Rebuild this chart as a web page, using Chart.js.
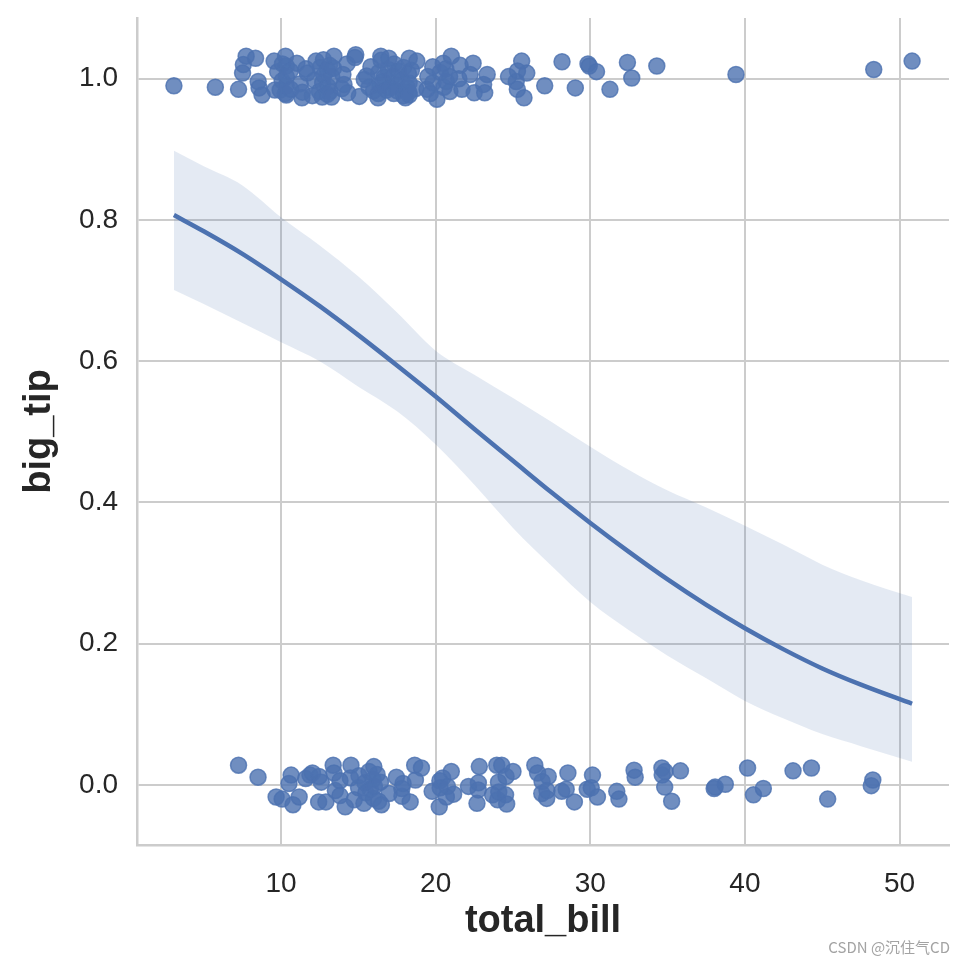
<!DOCTYPE html>
<html>
<head>
<meta charset="utf-8">
<script src="https://cdn.jsdelivr.net/npm/chart.js@4"></script>
<style>
  body { margin: 0; background: #ffffff; }
  #wrap { position: relative; width: 966px; height: 966px; }
  #mark {
    position: absolute; right: 16px; top: 936px;
    font-family: "Noto Sans CJK SC", "Liberation Sans", sans-serif;
    font-size: 15px; color: #a3a3a3;
  }
</style>
</head>
<body>
<div id="wrap">
  <canvas id="myChart" width="966" height="966"></canvas>
  <div id="mark">CSDN @沉住气CD</div>
</div>
<script>
// big_tip == 1 rows (total_bill, jittered y)
const bigTipBill = [3.07, 5.75, 7.25, 7.51, 7.56, 7.74, 8.35, 8.52, 8.58, 8.77, 9.55, 9.6, 9.78, 9.94, 10.07, 10.09, 10.27, 10.29, 10.33, 10.33,
  10.34, 10.34, 10.59, 10.63, 11.02, 11.24, 11.35, 11.38, 11.61, 11.69, 12.02, 12.16, 12.26, 12.48, 12.54, 12.66, 12.69, 12.74, 12.76, 13.0,
  13.0, 13.03, 13.13, 13.16, 13.27, 13.28, 13.39, 13.42, 13.94, 14.0, 14.07, 14.26, 14.31, 14.78, 14.83, 15.06, 15.38, 15.53, 15.69, 15.81,
  15.98, 16.27, 16.29, 16.32, 16.4, 16.45, 16.47, 16.58, 16.66, 16.82, 16.93, 16.97, 17.07, 17.26, 17.29, 17.31, 17.47, 17.51, 17.59, 17.78,
  17.92, 17.92, 18.04, 18.15, 18.24, 18.26, 18.28, 18.29, 18.29, 18.43, 18.71, 18.78, 19.44, 19.49, 19.65, 19.81, 19.82, 20.08, 20.29, 20.49,
  20.53, 20.65, 20.69, 20.9, 20.92, 21.01, 21.5, 21.58, 21.7, 22.23, 22.42, 22.49, 23.1, 23.17, 23.33, 24.71, 25.21, 25.28, 25.29, 25.56,
  25.71, 25.89, 27.05, 28.17, 29.03, 29.85, 29.93, 30.4, 31.27, 32.4, 32.68, 34.3, 39.42, 48.33, 50.81];
const bigTipY = [0.990, 0.988, 0.985, 1.008, 1.020, 1.032, 1.029, 0.996, 0.987, 0.977, 1.025, 0.984, 1.010, 0.984, 0.997, 1.021, 0.979, 1.032, 1.018, 0.990,
  1.003, 0.977, 1.011, 0.985, 1.022, 0.993, 0.973, 0.981, 1.014, 1.008, 0.976, 0.998, 1.025, 0.982, 1.016, 0.974, 0.994, 1.027, 1.005, 0.978,
  1.012, 0.989, 1.019, 0.982, 0.974, 1.003, 1.015, 1.032, 0.986, 1.006, 0.992, 1.021, 0.980, 1.030, 1.034, 0.975, 0.999, 1.004, 0.988, 1.017,
  0.983, 0.973, 0.979, 1.009, 0.991, 1.032, 1.026, 0.996, 1.002, 0.984, 1.013, 1.029, 0.987, 1.004, 0.979, 1.021, 0.991, 0.983, 1.011, 0.998,
  0.976, 1.016, 0.973, 0.988, 1.007, 0.981, 0.994, 1.029, 0.977, 1.012, 0.986, 1.025, 0.985, 1.003, 0.979, 1.017, 0.994, 0.971, 1.009, 1.022,
  0.988, 1.014, 0.996, 1.003, 0.982, 1.032, 1.000, 1.019, 0.985, 1.006, 1.022, 0.980, 0.992, 0.980, 1.006, 1.003, 0.996, 0.985, 1.011, 1.025,
  0.973, 1.008, 0.990, 1.024, 0.987, 1.021, 1.018, 1.010, 0.985, 1.023, 1.001, 1.018, 1.006, 1.013, 1.025];

// big_tip == 0 rows
const smallTipBill = [7.25, 8.51, 9.68, 10.07, 10.51, 10.65, 10.77, 11.17, 11.59, 11.87, 12.03, 12.43, 12.46, 12.6, 12.9, 13.37, 13.42, 13.51, 13.81, 13.81,
  14.15, 14.48, 14.52, 14.73, 15.01, 15.04, 15.36, 15.42, 15.48, 15.69, 15.77, 15.95, 15.98, 16.0, 16.04, 16.21, 16.31, 16.43, 16.49, 16.99,
  17.46, 17.81, 17.82, 17.89, 18.35, 18.64, 18.69, 19.08, 19.77, 20.23, 20.27, 20.29, 20.45, 20.69, 20.76, 21.01, 21.16, 22.12, 22.67, 22.75,
  22.76, 22.82, 23.68, 23.95, 24.01, 24.06, 24.08, 24.27, 24.52, 24.55, 24.59, 25.0, 26.41, 26.59, 26.86, 26.88, 27.18, 27.2, 27.28, 28.15,
  28.44, 28.55, 28.97, 29.8, 30.06, 30.14, 30.46, 31.71, 31.85, 32.83, 32.9, 34.63, 34.65, 34.81, 34.83, 35.26, 35.83, 38.01, 38.07, 38.73,
  40.17, 40.55, 41.19, 43.11, 44.3, 45.35, 48.17, 48.27];
const smallTipY = [0.028, 0.011, -0.017, -0.020, 0.002, 0.014, -0.028, -0.017, 0.009, 0.014, 0.017, -0.024, 0.012, 0.004, -0.024, 0.028, 0.017, -0.008, 0.006, -0.015,
  -0.031, 0.010, 0.028, -0.021, -0.004, 0.013, -0.026, 0.003, -0.011, 0.019, -0.006, 0.008, -0.019, 0.026, -0.002, 0.015, -0.023, 0.004, -0.028, -0.012,
  0.011, -0.005, -0.016, 0.002, -0.024, 0.028, 0.007, 0.024, -0.009, -0.031, 0.006, -0.004, 0.010, -0.017, -0.002, 0.019, -0.013, -0.002, -0.026, -0.007,
  0.003, 0.026, -0.014, 0.028, -0.021, 0.004, -0.010, 0.028, -0.014, 0.012, -0.027, 0.019, 0.028, 0.017, -0.012, 0.005, -0.019, -0.008, 0.012, -0.009,
  -0.006, 0.017, -0.024, -0.006, -0.004, 0.014, -0.017, -0.009, -0.020, 0.021, 0.011, 0.024, 0.014, -0.003, 0.019, -0.023, 0.020, -0.005, -0.003, 0.001,
  0.024, -0.014, -0.005, 0.020, 0.024, -0.020, -0.001, 0.007];

// logistic fit and its confidence band
const fitBill = [3.07, 5, 7.5, 10, 12.5, 15, 17.5, 20, 22.5, 25, 27.5, 30, 32.5, 35, 37.5, 40, 42.5, 45, 47.5, 50.81];
const fitProb = [0.807, 0.784, 0.752, 0.716, 0.678, 0.637, 0.594, 0.550, 0.504, 0.459, 0.414, 0.371, 0.330, 0.291, 0.255, 0.222, 0.192, 0.165, 0.142, 0.115];
const ciUpper = [0.898, 0.876, 0.849, 0.804, 0.764, 0.720, 0.669, 0.615, 0.581, 0.548, 0.514, 0.479, 0.446, 0.417, 0.393, 0.367, 0.340, 0.312, 0.290, 0.266];
const ciLower = [0.701, 0.681, 0.654, 0.627, 0.600, 0.564, 0.529, 0.482, 0.425, 0.364, 0.310, 0.259, 0.219, 0.183, 0.151, 0.119, 0.094, 0.072, 0.055, 0.033];

const xTicks = [10, 20, 30, 40, 50];
const yTicks = [0, 0.2, 0.4, 0.6, 0.8, 1.0];

const blue = "#4c72b0";
const pointFill = "rgba(76, 114, 176, 0.8)";
const gridColor = "#cccccc";
const textColor = "#262626";
const fontFamily = "'Liberation Sans', Arial, sans-serif";

const toPoints = (xs, ys) => xs.map((x, i) => ({ x: x, y: ys[i] }));

const ctx = document.getElementById("myChart");

new Chart(ctx, {
  type: "scatter",
  data: {
    datasets: [
      {
        label: "ci upper",
        data: toPoints(fitBill, ciUpper),
        showLine: true,
        pointRadius: 0,
        borderWidth: 0,
        borderColor: "rgba(0,0,0,0)",
        backgroundColor: "rgba(76, 114, 176, 0.15)",
        fill: "+1",
        cubicInterpolationMode: "monotone",
        order: 3,
      },
      {
        label: "ci lower",
        data: toPoints(fitBill, ciLower),
        showLine: true,
        pointRadius: 0,
        borderWidth: 0,
        borderColor: "rgba(0,0,0,0)",
        fill: false,
        cubicInterpolationMode: "monotone",
        order: 3,
      },
      {
        label: "fit",
        data: toPoints(fitBill, fitProb),
        showLine: true,
        pointRadius: 0,
        borderWidth: 4.5,
        borderColor: blue,
        fill: false,
        cubicInterpolationMode: "monotone",
        order: 0,
      },
      {
        label: "big tip",
        data: toPoints(bigTipBill, bigTipY),
        pointRadius: 8,
        borderWidth: 1.5,
        backgroundColor: pointFill,
        borderColor: pointFill,
        order: 1,
      },
      {
        label: "small tip",
        data: toPoints(smallTipBill, smallTipY),
        pointRadius: 8,
        borderWidth: 1.5,
        backgroundColor: pointFill,
        borderColor: pointFill,
        order: 1,
      },
    ],
  },
  options: {
    responsive: false,
    animation: false,
    layout: { padding: { top: 18, right: 17, left: 0, bottom: 0 } },
    plugins: {
      legend: { display: false },
      tooltip: { enabled: false },
    },
    scales: {
      x: {
        type: "linear",
        min: 0.683,
        max: 53.197,
        grid: { color: gridColor, lineWidth: 2, drawTicks: false },
        border: { color: gridColor, width: 2.5 },
        ticks: {
          autoSkip: false,
          maxRotation: 0,
          padding: 22,
          color: textColor,
          font: { family: fontFamily, size: 28 },
          callback: (v) => String(v),
        },
        title: {
          display: true,
          text: "total_bill",
          color: textColor,
          font: { family: fontFamily, size: 38, weight: "bold" },
          padding: { top: 0, bottom: 22 },
        },
        afterBuildTicks: (scale) => {
          scale.ticks = xTicks.map((v) => ({ value: v }));
        },
        afterFit: (scale) => {
          scale.height = 121;
          scale.paddingLeft = 0;
          scale.paddingRight = 0;
        },
      },
      y: {
        type: "linear",
        min: -0.085,
        max: 1.086,
        grid: { color: gridColor, lineWidth: 2, drawTicks: false },
        border: { color: gridColor, width: 2.5 },
        ticks: {
          autoSkip: false,
          padding: 19,
          color: textColor,
          font: { family: fontFamily, size: 28 },
          callback: (v) => v.toFixed(1),
        },
        title: {
          display: true,
          text: "big_tip",
          color: textColor,
          font: { family: fontFamily, size: 38, weight: "bold" },
          padding: { top: 17, bottom: 0 },
        },
        afterBuildTicks: (scale) => {
          scale.ticks = yTicks.map((v) => ({ value: v }));
        },
        afterFit: (scale) => {
          scale.width = 137;
          scale.paddingTop = 0;
          scale.paddingBottom = 0;
        },
      },
    },
  },
});
</script>
</body>
</html>
